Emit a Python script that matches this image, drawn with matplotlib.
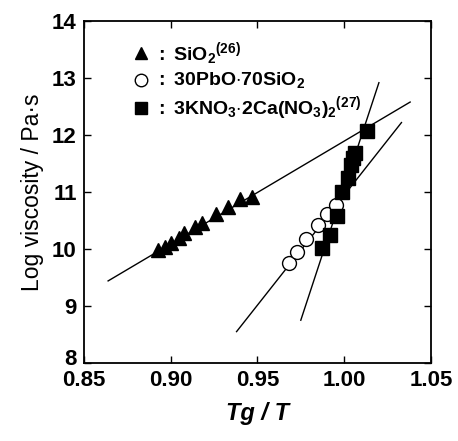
import numpy as np
import matplotlib
matplotlib.use('Agg')
import matplotlib.pyplot as plt
import matplotlib.transforms as mtransforms

plt.rcParams['font.family'] = ['Liberation Sans', 'DejaVu Sans']
plt.rcParams['mathtext.fontset'] = 'custom'
plt.rcParams['mathtext.rm'] = 'Liberation Sans'
plt.rcParams['mathtext.it'] = 'Liberation Sans:italic'
plt.rcParams['mathtext.bf'] = 'Liberation Sans:bold'

# --- data ---
sio2_x = [0.893, 0.897, 0.900, 0.905, 0.908, 0.914, 0.918, 0.926, 0.933, 0.940, 0.947]
sio2_y = [9.98, 10.04, 10.10, 10.20, 10.28, 10.38, 10.45, 10.62, 10.73, 10.88, 10.92]

pbo_x = [0.968, 0.973, 0.978, 0.985, 0.990, 0.995]
pbo_y = [9.76, 9.95, 10.18, 10.42, 10.62, 10.78]

kno3_x = [0.987, 0.992, 0.996, 0.999, 1.002, 1.004, 1.005, 1.006, 1.013]
kno3_y = [10.02, 10.25, 10.58, 11.00, 11.25, 11.48, 11.60, 11.68, 12.08]

# fitted lines (end points)
sio2_line_x = [0.864, 1.038]
sio2_line_y = [9.44, 12.58]
pbo_line_x = [0.938, 1.033]
pbo_line_y = [8.55, 12.22]
kno3_line_x = [0.975, 1.020]
kno3_line_y = [8.75, 12.92]

legend_labels = [r'$\mathbf{:\ SiO_2}$$^{\mathbf{(26)}}$',
                 r'$\mathbf{:\ 30PbO{\cdot}70SiO_2}$',
                 r'$\mathbf{:\ 3KNO_3{\cdot}2Ca(NO_3)_2}$$^{\mathbf{(27)}}$']

fig = plt.figure(figsize=(4.58, 4.41), dpi=100)
ax = fig.add_axes([0.183, 0.177, 0.758, 0.775])

ax.plot(sio2_line_x, sio2_line_y, color='black', lw=1.0)
ax.plot(pbo_line_x, pbo_line_y, color='black', lw=1.0)
ax.plot(kno3_line_x, kno3_line_y, color='black', lw=1.0)

ax.plot(sio2_x, sio2_y, '^', color='black', ms=9.5, ls='none')
ax.plot(pbo_x, pbo_y, 'o', mfc='white', mec='black', mew=1.0, ms=10, ls='none')
ax.plot(kno3_x, kno3_y, 's', color='black', ms=10, ls='none')

# hand-made legend
leg_y = [0.906, 0.827, 0.746]
ax.plot(0.164, leg_y[0], '^', color='black', ms=9, transform=ax.transAxes)
ax.plot(0.164, leg_y[1], 'o', mfc='white', mec='black', mew=1.0, ms=9, transform=ax.transAxes)
ax.plot(0.164, leg_y[2], 's', color='black', ms=9, transform=ax.transAxes)
for y, lab in zip(leg_y, legend_labels):
    ax.text(0.205, y, lab, transform=ax.transAxes, fontsize=14, va='center', ha='left')

ax.set_xlim(0.85, 1.05)
ax.set_ylim(8, 14)
ax.set_xticks([0.85, 0.90, 0.95, 1.00, 1.05])
ax.set_xticklabels(['0.85', '0.90', '0.95', '1.00', '1.05'])
ax.set_yticks(range(8, 15))
ax.tick_params(direction='in', top=True, right=True, length=5, width=1.0,
               labelsize=16, pad=5)
for lab in ax.get_xticklabels() + ax.get_yticklabels():
    lab.set_fontweight('bold')
for sp in ax.spines.values():
    sp.set_linewidth(1.3)

# lift the bottom "8" a little so it clears "0.85"
fig.canvas.draw()
lab8 = ax.get_yticklabels()[0]
lab8.set_transform(lab8.get_transform() +
                   mtransforms.ScaledTranslation(0, 4 / 72, fig.dpi_scale_trans))

ax.set_xlabel('Tg / T', fontsize=17, fontweight='bold', fontstyle='italic', labelpad=8)
ax.set_ylabel('Log viscosity / Pa\u00b7s', fontsize=16.5, labelpad=6)

fig.savefig('out.png', dpi=100)
